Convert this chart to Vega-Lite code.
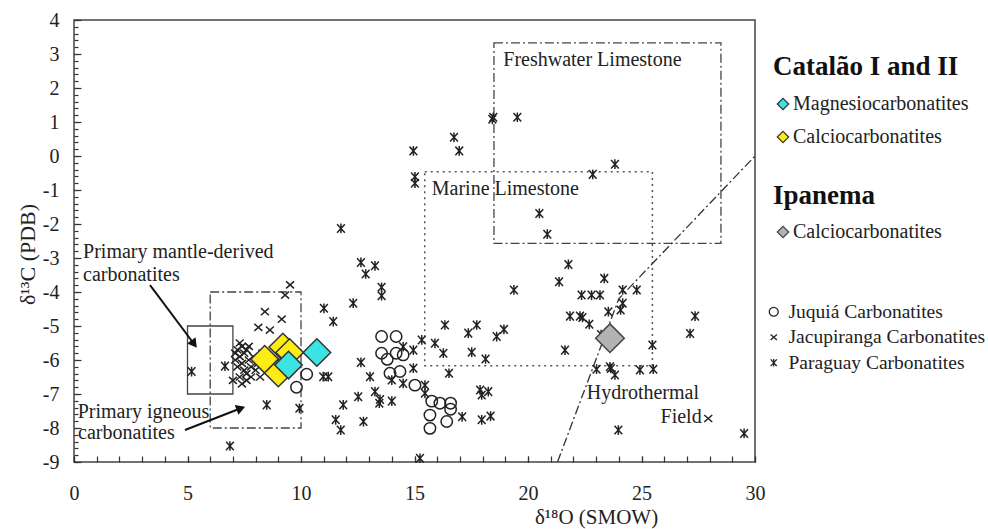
{
  "$schema": "https://vega.github.io/schema/vega-lite/v6.json",
  "width": 681,
  "height": 442,
  "autosize": {"type": "none"},
  "padding": {"left": 74, "top": 20, "right": 233, "bottom": 67},
  "background": "white",
  "config": {
    "font": "Liberation Serif",
    "view": {"stroke": "#444", "strokeWidth": 1.5},
    "axis": {
      "labelFont": "Liberation Serif", "titleFont": "Liberation Serif",
      "labelFontSize": 20, "titleFontSize": 22, "labelColor": "#222", "titleColor": "#222",
      "titleFontWeight": "normal", "domain": false, "tickColor": "#333", "tickWidth": 1.2, "grid": false,
      "labelOverlap": false, "labelFlush": false, "labelBound": false
    },
    "legend": {
      "orient": "none", "padding": 0, "labelLimit": 400, "titleLimit": 400,
      "labelFont": "Liberation Serif", "labelFontSize": 20, "labelColor": "#222",
      "titleFont": "Liberation Serif", "titleFontSize": 27, "titleFontWeight": "bold", "titleColor": "#111"
    }
  },
  "datasets": {
    "boxes": [
      {"name": "mantle", "x": 5, "x2": 7, "y": -5, "y2": -7},
      {"name": "igneous", "x": 6, "x2": 10, "y": -4, "y2": -8},
      {"name": "freshwater", "x": 18.5, "x2": 28.5, "y": 3.33, "y2": -2.57},
      {"name": "marine", "x": 15.45, "x2": 25.48, "y": -0.46, "y2": -6.17}
    ],
    "hydro": [{"x": 21.3, "y": -9}, {"x": 24, "y": -4.2}, {"x": 30, "y": 0}],
    "arrows": [
      {"name": "mantle", "x": 3.35, "y": -3.8, "x2": 5.29, "y2": -5.53},
      {"name": "igneous", "x": 4.89, "y": -8.06, "x2": 7.35, "y2": -7.42}
    ],
    "labels": [
      {"label": "Primary mantle-derived", "x": 0.4, "y": -3.0},
      {"label": "carbonatites", "x": 0.4, "y": -3.67},
      {"label": "Primary igneous", "x": 0.16, "y": -7.72},
      {"label": "carbonatites", "x": 0.18, "y": -8.33},
      {"label": "Freshwater Limestone", "x": 18.91, "y": 2.65},
      {"label": "Marine Limestone", "x": 15.76, "y": -1.15},
      {"label": "Hydrothermal", "x": 22.59, "y": -7.16},
      {"label": "Field", "x": 25.84, "y": -7.84}
    ],
    "others": [
      {"series": "Juquiá  Carbonatites", "x": 13.55, "y": -5.31},
      {"series": "Juquiá  Carbonatites", "x": 14.19, "y": -5.31},
      {"series": "Juquiá  Carbonatites", "x": 13.55, "y": -5.8},
      {"series": "Juquiá  Carbonatites", "x": 13.8, "y": -5.98},
      {"series": "Juquiá  Carbonatites", "x": 14.19, "y": -5.8},
      {"series": "Juquiá  Carbonatites", "x": 14.5, "y": -5.85},
      {"series": "Juquiá  Carbonatites", "x": 13.92, "y": -6.39},
      {"series": "Juquiá  Carbonatites", "x": 14.36, "y": -6.34},
      {"series": "Juquiá  Carbonatites", "x": 15.02, "y": -6.74},
      {"series": "Juquiá  Carbonatites", "x": 15.76, "y": -7.21},
      {"series": "Juquiá  Carbonatites", "x": 16.12, "y": -7.27},
      {"series": "Juquiá  Carbonatites", "x": 16.59, "y": -7.27},
      {"series": "Juquiá  Carbonatites", "x": 16.59, "y": -7.45},
      {"series": "Juquiá  Carbonatites", "x": 15.68, "y": -7.62},
      {"series": "Juquiá  Carbonatites", "x": 16.42, "y": -7.81},
      {"series": "Juquiá  Carbonatites", "x": 15.68, "y": -8.01},
      {"series": "Juquiá  Carbonatites", "x": 10.25, "y": -6.42},
      {"series": "Juquiá  Carbonatites", "x": 9.8, "y": -6.8},
      {"series": "Jacupiranga Carbonatites", "x": 9.52, "y": -3.79},
      {"series": "Jacupiranga Carbonatites", "x": 9.3, "y": -4.09},
      {"series": "Jacupiranga Carbonatites", "x": 8.41, "y": -4.58},
      {"series": "Jacupiranga Carbonatites", "x": 9.15, "y": -4.8},
      {"series": "Jacupiranga Carbonatites", "x": 8.12, "y": -5.04},
      {"series": "Jacupiranga Carbonatites", "x": 8.63, "y": -5.12},
      {"series": "Jacupiranga Carbonatites", "x": 7.2, "y": -5.7},
      {"series": "Jacupiranga Carbonatites", "x": 7.4, "y": -5.6},
      {"series": "Jacupiranga Carbonatites", "x": 7.5, "y": -5.8},
      {"series": "Jacupiranga Carbonatites", "x": 7.3, "y": -5.9},
      {"series": "Jacupiranga Carbonatites", "x": 7.6, "y": -5.7},
      {"series": "Jacupiranga Carbonatites", "x": 7.1, "y": -6.0},
      {"series": "Jacupiranga Carbonatites", "x": 7.4, "y": -6.1},
      {"series": "Jacupiranga Carbonatites", "x": 7.7, "y": -6.0},
      {"series": "Jacupiranga Carbonatites", "x": 7.5, "y": -6.3},
      {"series": "Jacupiranga Carbonatites", "x": 7.2, "y": -6.2},
      {"series": "Jacupiranga Carbonatites", "x": 7.8, "y": -6.2},
      {"series": "Jacupiranga Carbonatites", "x": 7.3, "y": -6.5},
      {"series": "Jacupiranga Carbonatites", "x": 7.6, "y": -6.4},
      {"series": "Jacupiranga Carbonatites", "x": 7.0, "y": -6.6},
      {"series": "Jacupiranga Carbonatites", "x": 7.9, "y": -5.9},
      {"series": "Jacupiranga Carbonatites", "x": 8.0, "y": -6.3},
      {"series": "Jacupiranga Carbonatites", "x": 7.4, "y": -6.7},
      {"series": "Jacupiranga Carbonatites", "x": 7.8, "y": -6.5},
      {"series": "Jacupiranga Carbonatites", "x": 8.1, "y": -6.1},
      {"series": "Jacupiranga Carbonatites", "x": 8.3, "y": -5.8},
      {"series": "Jacupiranga Carbonatites", "x": 7.1, "y": -5.8},
      {"series": "Jacupiranga Carbonatites", "x": 7.6, "y": -6.6},
      {"series": "Jacupiranga Carbonatites", "x": 7.3, "y": -5.5},
      {"series": "Jacupiranga Carbonatites", "x": 7.7, "y": -5.6},
      {"series": "Jacupiranga Carbonatites", "x": 8.2, "y": -6.5},
      {"series": "Jacupiranga Carbonatites", "x": 27.94, "y": -7.72},
      {"series": "Paraguay  Carbonatites", "x": 5.18, "y": -6.34},
      {"series": "Paraguay  Carbonatites", "x": 6.65, "y": -6.18},
      {"series": "Paraguay  Carbonatites", "x": 8.49, "y": -7.32},
      {"series": "Paraguay  Carbonatites", "x": 9.93, "y": -7.42},
      {"series": "Paraguay  Carbonatites", "x": 6.87, "y": -8.53},
      {"series": "Paraguay  Carbonatites", "x": 11.76, "y": -2.13},
      {"series": "Paraguay  Carbonatites", "x": 12.64, "y": -3.13},
      {"series": "Paraguay  Carbonatites", "x": 13.26, "y": -3.23},
      {"series": "Paraguay  Carbonatites", "x": 12.85, "y": -3.47},
      {"series": "Paraguay  Carbonatites", "x": 13.55, "y": -3.86},
      {"series": "Paraguay  Carbonatites", "x": 13.55, "y": -4.11},
      {"series": "Paraguay  Carbonatites", "x": 12.3, "y": -4.33},
      {"series": "Paraguay  Carbonatites", "x": 11.01, "y": -4.48},
      {"series": "Paraguay  Carbonatites", "x": 11.42, "y": -4.87},
      {"series": "Paraguay  Carbonatites", "x": 12.64, "y": -6.07},
      {"series": "Paraguay  Carbonatites", "x": 10.98, "y": -6.49},
      {"series": "Paraguay  Carbonatites", "x": 11.2, "y": -6.49},
      {"series": "Paraguay  Carbonatites", "x": 13.04, "y": -6.49},
      {"series": "Paraguay  Carbonatites", "x": 12.52, "y": -7.08},
      {"series": "Paraguay  Carbonatites", "x": 13.26, "y": -6.93},
      {"series": "Paraguay  Carbonatites", "x": 13.48, "y": -7.16},
      {"series": "Paraguay  Carbonatites", "x": 13.45, "y": -7.27},
      {"series": "Paraguay  Carbonatites", "x": 14.0, "y": -7.21},
      {"series": "Paraguay  Carbonatites", "x": 11.86, "y": -7.32},
      {"series": "Paraguay  Carbonatites", "x": 11.53, "y": -7.76},
      {"series": "Paraguay  Carbonatites", "x": 11.75, "y": -8.06},
      {"series": "Paraguay  Carbonatites", "x": 12.75, "y": -7.81},
      {"series": "Paraguay  Carbonatites", "x": 15.24, "y": -8.89},
      {"series": "Paraguay  Carbonatites", "x": 14.0, "y": -6.59},
      {"series": "Paraguay  Carbonatites", "x": 14.5, "y": -6.69},
      {"series": "Paraguay  Carbonatites", "x": 14.95, "y": -6.24},
      {"series": "Paraguay  Carbonatites", "x": 14.5, "y": -5.61},
      {"series": "Paraguay  Carbonatites", "x": 14.95, "y": -5.71},
      {"series": "Paraguay  Carbonatites", "x": 15.32, "y": -5.41},
      {"series": "Paraguay  Carbonatites", "x": 15.9, "y": -5.51},
      {"series": "Paraguay  Carbonatites", "x": 16.27, "y": -5.8},
      {"series": "Paraguay  Carbonatites", "x": 16.34, "y": -4.97},
      {"series": "Paraguay  Carbonatites", "x": 15.46, "y": -6.74},
      {"series": "Paraguay  Carbonatites", "x": 15.46, "y": -6.98},
      {"series": "Paraguay  Carbonatites", "x": 16.52, "y": -6.39},
      {"series": "Paraguay  Carbonatites", "x": 17.1, "y": -7.67},
      {"series": "Paraguay  Carbonatites", "x": 17.37, "y": -5.21},
      {"series": "Paraguay  Carbonatites", "x": 17.74, "y": -4.97},
      {"series": "Paraguay  Carbonatites", "x": 17.52, "y": -5.77},
      {"series": "Paraguay  Carbonatites", "x": 18.13, "y": -5.97},
      {"series": "Paraguay  Carbonatites", "x": 17.89, "y": -6.88},
      {"series": "Paraguay  Carbonatites", "x": 17.96, "y": -7.03},
      {"series": "Paraguay  Carbonatites", "x": 18.25, "y": -6.93},
      {"series": "Paraguay  Carbonatites", "x": 17.96, "y": -7.76},
      {"series": "Paraguay  Carbonatites", "x": 18.35, "y": -7.65},
      {"series": "Paraguay  Carbonatites", "x": 18.62, "y": -5.31},
      {"series": "Paraguay  Carbonatites", "x": 18.94, "y": -5.1},
      {"series": "Paraguay  Carbonatites", "x": 14.95, "y": 0.15},
      {"series": "Paraguay  Carbonatites", "x": 15.02, "y": -0.61},
      {"series": "Paraguay  Carbonatites", "x": 15.02, "y": -0.8},
      {"series": "Paraguay  Carbonatites", "x": 16.74, "y": 0.55},
      {"series": "Paraguay  Carbonatites", "x": 16.97, "y": 0.15},
      {"series": "Paraguay  Carbonatites", "x": 18.47, "y": 1.14},
      {"series": "Paraguay  Carbonatites", "x": 18.43, "y": 1.08},
      {"series": "Paraguay  Carbonatites", "x": 19.53, "y": 1.14},
      {"series": "Paraguay  Carbonatites", "x": 23.83, "y": -0.24},
      {"series": "Paraguay  Carbonatites", "x": 22.85, "y": -0.54},
      {"series": "Paraguay  Carbonatites", "x": 20.5, "y": -1.69},
      {"series": "Paraguay  Carbonatites", "x": 20.85, "y": -2.3},
      {"series": "Paraguay  Carbonatites", "x": 21.78, "y": -3.19},
      {"series": "Paraguay  Carbonatites", "x": 19.38, "y": -3.94},
      {"series": "Paraguay  Carbonatites", "x": 21.37, "y": -3.7},
      {"series": "Paraguay  Carbonatites", "x": 23.36, "y": -3.6},
      {"series": "Paraguay  Carbonatites", "x": 22.36, "y": -4.09},
      {"series": "Paraguay  Carbonatites", "x": 22.8, "y": -4.09},
      {"series": "Paraguay  Carbonatites", "x": 23.17, "y": -4.09},
      {"series": "Paraguay  Carbonatites", "x": 24.17, "y": -3.94},
      {"series": "Paraguay  Carbonatites", "x": 24.79, "y": -3.94},
      {"series": "Paraguay  Carbonatites", "x": 24.17, "y": -4.33},
      {"series": "Paraguay  Carbonatites", "x": 24.08, "y": -4.53},
      {"series": "Paraguay  Carbonatites", "x": 23.54, "y": -4.58},
      {"series": "Paraguay  Carbonatites", "x": 21.85, "y": -4.71},
      {"series": "Paraguay  Carbonatites", "x": 22.29, "y": -4.71},
      {"series": "Paraguay  Carbonatites", "x": 22.4, "y": -4.75},
      {"series": "Paraguay  Carbonatites", "x": 22.7, "y": -4.95},
      {"series": "Paraguay  Carbonatites", "x": 21.63, "y": -5.71},
      {"series": "Paraguay  Carbonatites", "x": 23.22, "y": -5.25},
      {"series": "Paraguay  Carbonatites", "x": 25.48, "y": -5.56},
      {"series": "Paraguay  Carbonatites", "x": 23.02, "y": -6.27},
      {"series": "Paraguay  Carbonatites", "x": 23.61, "y": -6.2},
      {"series": "Paraguay  Carbonatites", "x": 23.65, "y": -6.25},
      {"series": "Paraguay  Carbonatites", "x": 23.83, "y": -6.44},
      {"series": "Paraguay  Carbonatites", "x": 24.93, "y": -6.29},
      {"series": "Paraguay  Carbonatites", "x": 25.52, "y": -6.27},
      {"series": "Paraguay  Carbonatites", "x": 23.98, "y": -8.06},
      {"series": "Paraguay  Carbonatites", "x": 29.52, "y": -8.16},
      {"series": "Paraguay  Carbonatites", "x": 27.36, "y": -4.71},
      {"series": "Paraguay  Carbonatites", "x": 27.14, "y": -5.22}
    ],
    "catalao": [
      {"type": "Calciocarbonatites", "x": 8.4, "y": -5.98},
      {"type": "Calciocarbonatites", "x": 9.2, "y": -5.62},
      {"type": "Calciocarbonatites", "x": 9.5, "y": -5.78},
      {"type": "Calciocarbonatites", "x": 9.0, "y": -6.38},
      {"type": "Magnesiocarbonatites", "x": 9.45, "y": -6.15},
      {"type": "Magnesiocarbonatites", "x": 10.7, "y": -5.78}
    ],
    "ipanema": [
      {"type": "Calciocarbonatites", "x": 23.61, "y": -5.36}
    ]
  },
  "layer": [
    {
      "data": {"name": "boxes"},
      "transform": [{"filter": "datum.name == 'mantle'"}],
      "mark": {"type": "rect", "filled": false, "stroke": "#444", "strokeWidth": 1.3},
      "encoding": {
        "x": {"field": "x", "type": "quantitative", "scale": {"domain": [0, 30], "nice": false, "zero": false},
          "axis": {"orient": "bottom", "title": null, "labels": false, "offset": -6, "tickSize": 6,
            "values": [0,1,2,3,4,5,6,7,8,9,10,11,12,13,14,15,16,17,18,19,20,21,22,23,24,25,26,27,28,29,30]}},
        "x2": {"field": "x2"},
        "y": {"field": "y", "type": "quantitative", "scale": {"domain": [-9, 4], "nice": false, "zero": false},
          "axis": {"orient": "left", "title": null, "labels": false, "offset": -4, "tickSize": 4,
            "values": [-9,-8.8,-8.6,-8.4,-8.2,-8,-7.8,-7.6,-7.4,-7.2,-7,-6.8,-6.6,-6.4,-6.2,-6,-5.8,-5.6,-5.4,-5.2,-5,-4.8,-4.6,-4.4,-4.2,-4,-3.8,-3.6,-3.4,-3.2,-3,-2.8,-2.6,-2.4,-2.2,-2,-1.8,-1.6,-1.4,-1.2,-1,-0.8,-0.6,-0.4,-0.2,0,0.2,0.4,0.6,0.8,1,1.2,1.4,1.6,1.8,2,2.2,2.4,2.6,2.8,3,3.2,3.4,3.6,3.8,4]}},
        "y2": {"field": "y2"}
      }
    },
    {
      "data": {"name": "boxes"},
      "transform": [{"filter": "datum.name == 'igneous' || datum.name == 'freshwater'"}],
      "mark": {"type": "rect", "filled": false, "stroke": "#444", "strokeWidth": 1.3, "strokeDash": [9, 3, 2, 3]},
      "encoding": {
        "x": {"field": "x", "type": "quantitative",
          "axis": {"orient": "bottom", "title": "δ¹⁸O (SMOW)", "values": [0, 5, 10, 15, 20, 25, 30], "offset": -6, "tickSize": 6,
            "labelPadding": 21, "labelExpr": "'' + datum.value", "titleFontSize": 21,
            "titleX": 522, "titleY": 67, "titleAlign": "center", "titleBaseline": "alphabetic"}},
        "x2": {"field": "x2"},
        "y": {"field": "y", "type": "quantitative",
          "axis": {"orient": "left", "title": "δ¹³C (PDB)", "values": [-9,-8,-7,-6,-5,-4,-3,-2,-1,0,1,2,3,4],
            "offset": -7, "tickSize": 7, "labelPadding": 15, "labelExpr": "'' + datum.value",
            "titleX": -47, "titleY": 234, "titleAngle": -90, "titleAlign": "center", "titleBaseline": "alphabetic"}},
        "y2": {"field": "y2"}
      }
    },
    {
      "data": {"name": "boxes"},
      "transform": [{"filter": "datum.name == 'marine'"}],
      "mark": {"type": "rect", "filled": false, "stroke": "#555", "strokeWidth": 1.5, "strokeDash": [2, 4]},
      "encoding": {
        "x": {"field": "x", "type": "quantitative", "axis": null}, "x2": {"field": "x2"},
        "y": {"field": "y", "type": "quantitative", "axis": null}, "y2": {"field": "y2"}
      }
    },
    {
      "data": {"name": "hydro"},
      "mark": {"type": "line", "stroke": "#333", "strokeWidth": 1.3, "strokeDash": [9, 3, 2, 3]},
      "encoding": {
        "x": {"field": "x", "type": "quantitative", "axis": null},
        "y": {"field": "y", "type": "quantitative", "axis": null}
      }
    },
    {
      "data": {"name": "arrows"},
      "mark": {"type": "rule", "stroke": "#111", "strokeWidth": 2},
      "encoding": {
        "x": {"field": "x", "type": "quantitative", "axis": null}, "x2": {"field": "x2"},
        "y": {"field": "y", "type": "quantitative", "axis": null}, "y2": {"field": "y2"}
      }
    },
    {
      "data": {"name": "arrows"},
      "transform": [{"filter": "datum.name == 'mantle'"}],
      "mark": {"type": "point", "shape": "triangle-up", "filled": true, "fill": "#111", "opacity": 1, "size": 110, "angle": 143},
      "encoding": {
        "x": {"field": "x2", "type": "quantitative", "axis": null},
        "y": {"field": "y2", "type": "quantitative", "axis": null}
      }
    },
    {
      "data": {"name": "arrows"},
      "transform": [{"filter": "datum.name == 'igneous'"}],
      "mark": {"type": "point", "shape": "triangle-up", "filled": true, "fill": "#111", "opacity": 1, "size": 110, "angle": 69},
      "encoding": {
        "x": {"field": "x2", "type": "quantitative", "axis": null},
        "y": {"field": "y2", "type": "quantitative", "axis": null}
      }
    },
    {
      "data": {"name": "labels"},
      "mark": {"type": "text", "align": "left", "baseline": "alphabetic", "font": "Liberation Serif", "fontSize": 20, "color": "#222"},
      "encoding": {
        "x": {"field": "x", "type": "quantitative", "axis": null},
        "y": {"field": "y", "type": "quantitative", "axis": null},
        "text": {"field": "label"}
      }
    },
    {
      "data": {"name": "others"},
      "mark": {"type": "point", "filled": false, "stroke": "#222", "strokeWidth": 1.5, "opacity": 1, "size": 130},
      "encoding": {
        "x": {"field": "x", "type": "quantitative", "axis": null},
        "y": {"field": "y", "type": "quantitative", "axis": null},
        "shape": {"field": "series", "type": "nominal",
          "scale": {"domain": ["Juquiá  Carbonatites", "Jacupiranga Carbonatites", "Paraguay  Carbonatites"],
            "range": ["circle", "M-0.7,-0.62L0.7,0.62M-0.7,0.62L0.7,-0.62", "M-0.68,-0.75L0.68,0.75M-0.68,0.75L0.68,-0.75M0,-0.85L0,0.85"]},
          "legend": {"title": null, "legendX": 690, "legendY": 282, "symbolSize": 80, "rowPadding": 4.5, "labelOffset": 5,
            "labelFontSize": 19.5, "symbolStrokeColor": "#222", "symbolStrokeWidth": 1.3}}
      }
    },
    {
      "data": {"name": "catalao"},
      "mark": {"type": "point", "shape": "diamond", "filled": true, "stroke": "#333", "strokeWidth": 1.5, "opacity": 1, "size": 760},
      "encoding": {
        "x": {"field": "x", "type": "quantitative", "axis": null},
        "y": {"field": "y", "type": "quantitative", "axis": null},
        "fill": {"field": "type", "type": "nominal",
          "scale": {"domain": ["Magnesiocarbonatites", "Calciocarbonatites"], "range": ["#3be3e3", "#fdec12"]},
          "legend": {"title": "Catalão I and II", "legendX": 699, "legendY": 34, "symbolType": "diamond", "symbolSize": 130,
            "symbolStrokeColor": "#333", "symbolStrokeWidth": 1.2, "rowPadding": 13, "titlePadding": 13, "symbolOffset": 0, "labelOffset": 0}}
      }
    },
    {
      "data": {"name": "ipanema"},
      "mark": {"type": "point", "shape": "diamond", "filled": true, "stroke": "#444", "strokeWidth": 1.5, "opacity": 1, "size": 820},
      "encoding": {
        "x": {"field": "x", "type": "quantitative", "axis": null},
        "y": {"field": "y", "type": "quantitative", "axis": null},
        "fill": {"field": "type", "type": "nominal",
          "scale": {"domain": ["Calciocarbonatites"], "range": ["#b3b3b3"]},
          "legend": {"title": "Ipanema", "legendX": 699, "legendY": 163, "symbolType": "diamond", "symbolSize": 130,
            "symbolStrokeColor": "#444", "symbolStrokeWidth": 1.2, "titlePadding": 12, "symbolOffset": 0, "labelOffset": 0}}
      }
    }
  ],
  "resolve": {"scale": {"fill": "independent"}, "axis": {"x": "independent", "y": "independent"}}
}
